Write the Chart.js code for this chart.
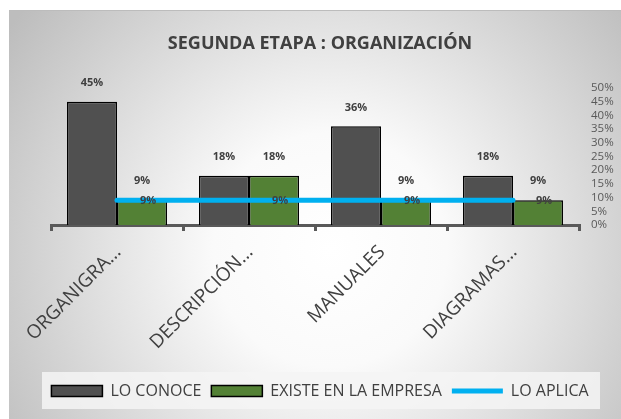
<!DOCTYPE html>
<html>
<head>
<meta charset="utf-8">
<script src="https://cdn.jsdelivr.net/npm/chart.js@4.4.1/dist/chart.umd.min.js"></script>
<style>
  html, body { margin: 0; padding: 0; background: #fff; }
  canvas { display: block; }
</style>
</head>
<body>
<canvas id="chart" width="621" height="419"></canvas>
<script>
// datos
const categories = ['ORGANIGRA...', 'DESCRIPCIÓN...', 'MANUALES', 'DIAGRAMAS...'];
const loConoce = [45, 18, 36, 18];
const existeEnLaEmpresa = [9, 18, 9, 9];
const loAplica = [9, 9, 9, 9];
const yTicks = [0, 5, 10, 15, 20, 25, 30, 35, 40, 45, 50];

const FONT = "'Open Sans', sans-serif";
const TEXT = '#404040';

// fondo gris con degradado radial + caja de la leyenda
const bgPlugin = {
  id: 'bg',
  beforeDraw(chart) {
    const ctx = chart.ctx;
    ctx.save();
    ctx.fillStyle = '#ffffff';
    ctx.fillRect(0, 0, chart.width, chart.height);
    const g = ctx.createRadialGradient(330, 250, 0, 330, 250, 390);
    g.addColorStop(0, '#ffffff');
    g.addColorStop(0.3, '#fafafa');
    g.addColorStop(1, '#bdbdbd');
    ctx.fillStyle = g;
    ctx.fillRect(9, 10, chart.width - 9, chart.height - 10);
    ctx.fillStyle = '#bcbcbc';
    ctx.fillRect(9, 10, chart.width - 9, 1);
    // caja leyenda
    const lg = chart.legend;
    ctx.fillStyle = 'rgba(244,244,244,0.85)';
    ctx.fillRect(42, lg.top - 1, 558, lg.height + 1);
    ctx.restore();
  }
};

// etiquetas de datos
const labelPlugin = {
  id: 'valueLabels',
  afterDatasetsDraw(chart) {
    const ctx = chart.ctx;
    ctx.save();
    ctx.font = 'bold 11px ' + FONT;
    ctx.fillStyle = TEXT;
    ctx.textAlign = 'center';
    ctx.textBaseline = 'middle';
    chart.data.datasets.forEach((ds, i) => {
      const meta = chart.getDatasetMeta(i);
      meta.data.forEach((el, j) => {
        const txt = ds.data[j] + '%';
        if (ds.type === 'line') {
          ctx.fillText(txt, el.x + 31, el.y + 1);
        } else {
          ctx.fillText(txt, el.x, el.y - 19);
        }
      });
    });
    ctx.restore();
  }
};

new Chart(document.getElementById('chart'), {
  type: 'bar',
  data: {
    labels: categories,
    datasets: [{
      label: 'LO CONOCE',
      data: loConoce,
      yAxisID: 'y',
      backgroundColor: '#505050',
      borderColor: '#000000',
      borderWidth: 1.5,
      pointStyle: 'rect',
      order: 1
    }, {
      label: 'EXISTE EN LA EMPRESA',
      data: existeEnLaEmpresa,
      yAxisID: 'y',
      backgroundColor: '#538135',
      borderColor: '#000000',
      borderWidth: 1.5,
      pointStyle: 'rect',
      order: 1
    }, {
      type: 'line',
      label: 'LO APLICA',
      data: loAplica,
      yAxisID: 'y',
      borderColor: '#00B0F0',
      backgroundColor: '#00B0F0',
      borderWidth: 5,
      borderCapStyle: 'round',
      pointRadius: 0,
      pointStyle: 'line',
      order: 0
    }]
  },
  options: {
    responsive: false,
    animation: false,
    categoryPercentage: 0.758,
    barPercentage: 1,
    layout: { padding: { top: 10, left: 19, right: 0, bottom: 10 } },
    plugins: {
      tooltip: { enabled: false },
      title: {
        display: true,
        text: 'SEGUNDA ETAPA : ORGANIZACIÓN',
        color: TEXT,
        font: { family: FONT, size: 18, weight: 'bold', lineHeight: 1.2 },
        padding: { top: 23.2, bottom: 33.2 }
      },
      legend: {
        position: 'bottom',
        labels: {
          usePointStyle: true,
          pointStyleWidth: 51,
          boxHeight: 11,
          padding: 10,
          color: TEXT,
          font: { family: FONT, size: 16 },
          sort: (a, b) => a.datasetIndex - b.datasetIndex
        }
      }
    },
    scales: {
      x: {
        z: 1,
        grid: {
          display: true,
          drawOnChartArea: false,
          drawTicks: true,
          tickLength: 6,
          tickWidth: 3,
          color: '#595959',
          lineWidth: 3
        },
        border: { display: true, color: '#595959', width: 3 },
        ticks: {
          color: TEXT,
          font: { family: FONT, size: 19 },
          minRotation: 45,
          maxRotation: 45,
          autoSkip: false,
          padding: 10,
          labelOffset: 1
        },
        afterFit(s) { s.height = 148; }
      },
      yL: {
        position: 'left',
        display: true,
        grid: { display: false, drawTicks: false },
        border: { display: false },
        ticks: { display: false },
        afterFit(s) { s.width = 32; }
      },
      y: {
        position: 'right',
        min: 0,
        max: 50,
        afterBuildTicks(s) { s.ticks = yTicks.map(v => ({ value: v })); },
        grid: { display: false, drawTicks: false },
        border: { display: false },
        ticks: {
          color: '#595959',
          padding: 12,
          autoSkip: false,
          font: { family: FONT, size: 11.5 },
          callback: v => v + '%'
        },
        afterFit(s) { s.width = 42; }
      }
    }
  },
  plugins: [bgPlugin, labelPlugin]
});
</script>
</body>
</html>
